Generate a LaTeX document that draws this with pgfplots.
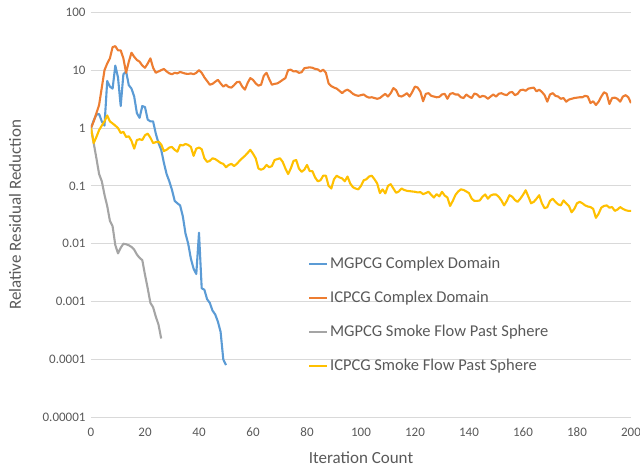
\documentclass[border=0pt]{standalone}
\usepackage{pgfplots}
\pgfplotsset{compat=1.18}
\usepackage{pgfplotstable}
\usepackage{fontspec}
\setmainfont{Carlito}
\definecolor{cblue}{HTML}{5B9BD5}
\definecolor{corange}{HTML}{ED7D31}
\definecolor{cgray}{HTML}{A5A5A5}
\definecolor{cyellow}{HTML}{FFC000}
\definecolor{ctext}{HTML}{595959}
\definecolor{cgrid}{HTML}{D9D9D9}

\pgfplotstableread{
x y
0 1.0
1 1.35
2 1.7
3 1.75
4 1.3
5 1.1
6 6.5
7 5.2
8 4.8
9 12
10 7.5
11 2.4
12 8.5
13 9.5
14 5.5
15 4.8
16 3.5
17 1.8
18 1.5
19 2.4
20 2.3
21 1.4
22 1.3
23 1.3
24 0.8
25 0.55
26 0.42
27 0.25
28 0.16
29 0.12
30 0.085
31 0.055
32 0.05
33 0.046
34 0.03
35 0.015
36 0.01
37 0.0055
38 0.0037
39 0.003
40 0.0155
41 0.0017
42 0.0016
43 0.0011
44 0.00095
45 0.0007
46 0.0006
47 0.00045
48 0.0003
49 0.0001
50 0.00008
}\mgcomplex

\pgfplotstableread{
x y
0 1.0
1 1.3
2 1.8
3 2.5
4 5
5 10
6 13
7 16
8 25
9 26
10 22
11 22
12 16
13 9.0
14 14
15 20
16 17
17 15
18 14
19 12
20 11
21 13
22 16
23 11
24 9.0
25 9.5
26 10
27 10.5
28 9.5
29 8.8
30 8.5
31 9.0
32 8.8
33 9.3
34 9.0
35 8.7
36 8.6
37 8.8
38 8.5
39 9.0
40 10
41 9.0
42 7.5
43 6.5
44 5.6
45 5.8
46 6.3
47 6.8
48 5.9
49 5.2
50 5.6
51 5.1
52 5.0
53 5.5
54 6.2
55 6.3
56 5.2
57 4.6
58 6.0
59 7.3
60 6.8
61 5.9
62 5.4
63 5.6
64 8.0
65 9.0
66 7.0
67 5.6
68 5.8
69 5.9
70 6.3
71 6.8
72 7.3
73 10
74 10.2
75 9.5
76 9.6
77 9.0
78 9.2
79 10.8
80 11
81 11.2
82 11
83 10.5
84 10.3
85 9.5
86 10.2
87 9.0
88 5.9
89 5.3
90 5.0
91 4.8
92 4.4
93 4.0
94 4.4
95 4.6
96 4.3
97 3.9
98 3.7
99 3.6
100 3.7
101 3.8
102 3.5
103 3.35
104 3.4
105 3.3
106 3.2
107 3.3
108 3.6
109 3.9
110 3.5
111 4.0
112 4.9
113 4.5
114 3.6
115 3.5
116 3.7
117 4.0
118 3.5
119 4.2
120 5.2
121 5.0
122 4.25
123 2.9
124 3.9
125 4.0
126 3.6
127 3.5
128 3.4
129 3.45
130 3.8
131 3.9
132 3.2
133 3.9
134 4.0
135 3.8
136 3.8
137 3.4
138 3.3
139 3.8
140 3.5
141 3.3
142 3.95
143 3.8
144 3.4
145 3.6
146 3.5
147 3.2
148 3.5
149 3.8
150 3.5
151 3.9
152 4.0
153 3.8
154 3.7
155 4.1
156 4.2
157 3.7
158 3.9
159 4.5
160 4.6
161 4.4
162 4.8
163 4.9
164 5.0
165 4.3
166 4.6
167 4.2
168 3.7
169 2.85
170 3.8
171 4.0
172 3.6
173 3.5
174 3.2
175 3.3
176 2.85
177 3.1
178 3.2
179 3.3
180 3.35
181 3.4
182 3.4
183 3.6
184 3.5
185 2.7
186 2.9
187 2.5
188 2.85
189 3.5
190 4.15
191 3.9
192 2.6
193 3.3
194 3.35
195 3.2
196 2.85
197 3.5
198 3.7
199 3.4
200 2.7
}\iccomplex

\pgfplotstableread{
x y
0 1.0
1 0.55
2 0.3
3 0.16
4 0.12
5 0.07
6 0.045
7 0.025
8 0.02
9 0.0095
10 0.0068
11 0.0085
12 0.010
13 0.0098
14 0.0094
15 0.0088
16 0.0079
17 0.0065
18 0.0057
19 0.0052
20 0.0029
21 0.0017
22 0.00095
23 0.0008
24 0.00055
25 0.0004
26 0.00023
}\mgsmoke

\pgfplotstableread{
x y
0 1.0
1 0.55
2 0.7
3 0.92
4 1.1
5 1.3
6 1.65
7 1.3
8 1.2
9 1.1
10 1.0
11 0.82
12 0.86
13 0.7
14 0.72
15 0.6
16 0.44
17 0.62
18 0.64
19 0.62
20 0.75
21 0.8
22 0.68
23 0.55
24 0.57
25 0.58
26 0.52
27 0.4
28 0.42
29 0.46
30 0.47
31 0.42
32 0.39
33 0.51
34 0.5
35 0.53
36 0.51
37 0.47
38 0.33
39 0.44
40 0.46
41 0.43
42 0.3
43 0.26
44 0.27
45 0.3
46 0.29
47 0.27
48 0.25
49 0.24
50 0.21
51 0.23
52 0.24
53 0.22
54 0.24
55 0.27
56 0.3
57 0.33
58 0.37
59 0.42
60 0.36
61 0.3
62 0.2
63 0.19
64 0.2
65 0.23
66 0.21
67 0.22
68 0.28
69 0.29
70 0.3
71 0.26
72 0.2
73 0.16
74 0.2
75 0.27
76 0.28
77 0.2
78 0.175
79 0.19
80 0.23
81 0.18
82 0.18
83 0.14
84 0.12
85 0.125
86 0.15
87 0.15
88 0.1
89 0.09
90 0.13
91 0.15
92 0.14
93 0.135
94 0.12
95 0.145
96 0.11
97 0.095
98 0.09
99 0.087
100 0.1
101 0.125
102 0.13
103 0.145
104 0.15
105 0.13
106 0.11
107 0.075
108 0.087
109 0.074
110 0.1
111 0.107
112 0.09
113 0.076
114 0.08
115 0.09
116 0.085
117 0.082
118 0.081
119 0.08
120 0.079
121 0.077
122 0.078
123 0.072
124 0.075
125 0.079
126 0.07
127 0.063
128 0.072
129 0.066
130 0.079
131 0.068
132 0.063
133 0.045
134 0.055
135 0.07
136 0.08
137 0.087
138 0.085
139 0.08
140 0.075
141 0.06
142 0.055
143 0.055
144 0.056
145 0.065
146 0.071
147 0.06
148 0.068
149 0.071
150 0.071
151 0.065
152 0.056
153 0.046
154 0.055
155 0.069
156 0.065
157 0.057
158 0.053
159 0.06
160 0.07
161 0.084
162 0.065
163 0.05
164 0.053
165 0.06
166 0.069
167 0.05
168 0.041
169 0.043
170 0.055
171 0.06
172 0.053
173 0.048
174 0.046
175 0.056
176 0.05
177 0.045
178 0.035
179 0.04
180 0.05
181 0.053
182 0.05
183 0.046
184 0.044
185 0.043
186 0.04
187 0.028
188 0.033
189 0.042
190 0.045
191 0.046
192 0.042
193 0.043
194 0.037
195 0.039
196 0.043
197 0.04
198 0.038
199 0.037
200 0.037
}\icsmoke

\begin{document}
\begin{tikzpicture}
\begin{axis}[
  name=ax,
  scale only axis,
  width=540pt, height=405pt,
  xmin=0, xmax=200,
  ymode=log, ymin=1e-5, ymax=100,
  xtick={0,20,...,200},
  ytick={1e-5,1e-4,1e-3,1e-2,1e-1,1,10,100},
  yticklabels={0.00001,0.0001,0.001,0.01,0.1,1,10,100},
  /pgf/number format/assume math mode=true,
  ymajorgrids,
  major grid style={cgrid, line width=1pt},
  axis line style={draw=none},
  tick style={draw=none},
  ticklabel style={font=\fontsize{13}{15}\selectfont, text=ctext},
  xticklabel style={yshift=-7pt},
  yticklabel style={xshift=-2pt},
  xlabel={Iteration Count},
  ylabel={Relative Residual Reduction},
  label style={font=\fontsize{17}{20}\selectfont, text=ctext},
  xlabel style={at={(rel axis cs:0.5,-0.1)}, anchor=center},
  ylabel style={at={(rel axis cs:-0.1407,0.5)}, anchor=center},
  legend style={draw=none, fill=none, at={(rel axis cs:0.396,0.405)}, anchor=north west,
    font=\fontsize{16.5}{19}\selectfont, text=ctext, row sep=17pt,
    /tikz/every even column/.append style={column sep=4pt}},
  legend cell align=left,
  legend image code/.code={\draw[#1] (0pt,0pt) -- (18pt,0pt);},
  every axis plot/.append style={line width=2.1pt, line join=round},
]
\addplot[cblue] table[x=x,y=y] {\mgcomplex};
\addlegendentry{MGPCG Complex Domain}
\addplot[corange] table[x=x,y=y] {\iccomplex};
\addlegendentry{ICPCG Complex Domain}
\addplot[cgray] table[x=x,y=y] {\mgsmoke};
\addlegendentry{MGPCG Smoke Flow Past Sphere}
\addplot[cyellow] table[x=x,y=y] {\icsmoke};
\addlegendentry{ICPCG Smoke Flow Past Sphere}
\end{axis}
\pgfresetboundingbox
\path[use as bounding box] ([shift={(-91pt,-50.7pt)}]ax.south west) rectangle ([shift={(9pt,12.3pt)}]ax.north east);
\end{tikzpicture}
\end{document}
